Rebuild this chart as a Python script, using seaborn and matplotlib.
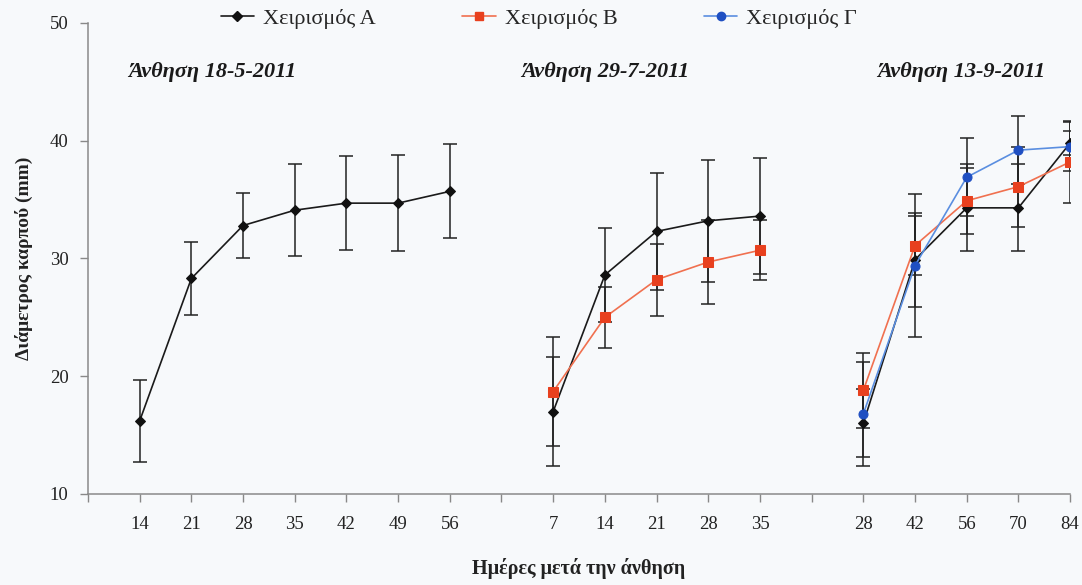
import matplotlib
matplotlib.use("Agg")
import matplotlib.pyplot as plt
from matplotlib.lines import Line2D
import seaborn as sns
import pandas as pd

# ---- data ----
x_labels = ['', '14', '21', '28', '35', '42', '49', '56',
            '', '7', '14', '21', '28', '35',
            '', '28', '42', '56', '70', '84']

g1_days = [14, 21, 28, 35, 42, 49, 56]
g1_A = [16.2, 28.3, 32.8, 34.1, 34.7, 34.7, 35.7]
g1_A_err = [3.5, 3.1, 2.8, 3.9, 4.0, 4.1, 4.0]

g2_days = [7, 14, 21, 28, 35]
g2_A = [17.0, 28.6, 32.3, 33.2, 33.6]
g2_A_err = [4.65, 4.0, 5.0, 5.2, 4.9]
g2_B = [18.7, 25.0, 28.2, 29.7, 30.7]
g2_B_err = [4.6, 2.6, 3.05, 3.6, 2.55]

g3_days = [28, 42, 56, 70, 84]
g3_A = [16.0, 29.9, 34.3, 34.3, 39.8]
g3_A_err = [2.9, 4.0, 3.7, 3.7, 1.0]
g3_B = [18.8, 31.1, 34.9, 36.1, 38.2]
g3_B_err = [3.2, 2.5, 2.8, 3.4, 3.45]
g3_C = [16.8, 29.4, 36.9, 39.2, 39.5]
g3_C_err = [4.45, 6.1, 3.3, 2.9, 2.1]

series_names = ['Χειρισμός Α', 'Χειρισμός Β', 'Χειρισμός Γ']
group_titles = ['Άνθηση 18-5-2011', 'Άνθηση 29-7-2011', 'Άνθηση 13-9-2011']
ylabel = 'Διάμετρος καρπού (mm)'
xlabel = 'Ημέρες μετά την άνθηση'

# ---- build table ----
group_start = [1, 9, 15]
groups = [
    (g1_days, {'Χειρισμός Α': (g1_A, g1_A_err)}),
    (g2_days, {'Χειρισμός Α': (g2_A, g2_A_err), 'Χειρισμός Β': (g2_B, g2_B_err)}),
    (g3_days, {'Χειρισμός Α': (g3_A, g3_A_err), 'Χειρισμός Β': (g3_B, g3_B_err),
               'Χειρισμός Γ': (g3_C, g3_C_err)}),
]
rows = []
for gi, (days, ser) in enumerate(groups):
    for name, (vals, errs) in ser.items():
        for i, (d, v, e) in enumerate(zip(days, vals, errs)):
            rows.append(dict(group=gi, series=name, day=d, pos=group_start[gi] + i,
                             value=v, err=e))
df = pd.DataFrame(rows)

# ---- style ----
sns.set_theme(style='white')
plt.rcParams['font.family'] = ['Liberation Serif', 'DejaVu Serif']

line_colors = {'Χειρισμός Α': '#1a1a1a', 'Χειρισμός Β': '#f0704f', 'Χειρισμός Γ': '#5a8ee0'}
mark_colors = {'Χειρισμός Α': '#111111', 'Χειρισμός Β': '#e8401e', 'Χειρισμός Γ': '#1f4fc2'}
markers = {'Χειρισμός Α': 'D', 'Χειρισμός Β': 's', 'Χειρισμός Γ': 'o'}
msizes = {'Χειρισμός Α': 5.5, 'Χειρισμός Β': 6.5, 'Χειρισμός Γ': 6.5}
bg = '#f7f9fb'

fig = plt.figure(figsize=(10.82, 5.85), dpi=100, facecolor=bg)
ax = fig.add_axes([0.0813, 0.1556, 0.9077, 0.8051])
ax.set_facecolor(bg)

# error bars first
for name in series_names:
    sub = df[df.series == name]
    ax.errorbar(sub.pos, sub.value, yerr=sub.err, fmt='none', ecolor='#222222',
                elinewidth=1.1, capsize=5, capthick=1.1, zorder=2)

for name in series_names:
    for gi in sorted(df.group.unique()):
        sub = df[(df.series == name) & (df.group == gi)]
        if sub.empty:
            continue
        sns.lineplot(data=sub, x='pos', y='value', ax=ax, color=line_colors[name],
                     linewidth=1.2, marker=markers[name], markersize=msizes[name],
                     markerfacecolor=mark_colors[name], markeredgecolor=mark_colors[name],
                     errorbar=None, legend=False, zorder=3)

ax.set_xlim(0, 19)
ax.set_ylim(10, 50)
ax.set_xticks(range(len(x_labels)))
ax.set_xticklabels(x_labels)
ax.set_yticks([10, 20, 30, 40, 50])
ax.tick_params(axis='both', which='both', direction='out', length=6, width=1,
               color='#888888', labelsize=13.5, labelcolor='#222222', bottom=True, left=True)
ax.tick_params(axis='x', pad=10)
ax.tick_params(axis='y', pad=8)
for s in ['top', 'right']:
    ax.spines[s].set_visible(False)
for s in ['left', 'bottom']:
    ax.spines[s].set_color('#8a8a8a')
    ax.spines[s].set_linewidth(1.1)

ax.set_xlabel(xlabel, fontsize=14.5, fontweight='bold', labelpad=18, color='#222222')
ax.set_ylabel(ylabel, fontsize=14, fontweight='bold', labelpad=12, color='#222222')

title_pos = [(2.4, 45.8), (10.0, 45.8), (16.9, 45.8)]
for t, (tx, ty) in zip(group_titles, title_pos):
    ax.text(tx, ty, t, ha='center', va='center', fontsize=16, fontweight='bold',
            fontstyle='italic', color='#1a1a1a')

handles = [Line2D([0], [0], color=line_colors[n], marker=markers[n], markersize=msizes[n] - 0.5,
                  markerfacecolor=mark_colors[n], markeredgecolor=mark_colors[n], linewidth=1.2)
           for n in series_names]
leg = fig.legend(handles, series_names, loc='center', bbox_to_anchor=(0.498, 0.968), ncol=3,
                 frameon=False, fontsize=16, handlelength=1.5, handletextpad=0.4,
                 columnspacing=3.9)

fig.savefig('out.png', dpi=100, facecolor=bg)
